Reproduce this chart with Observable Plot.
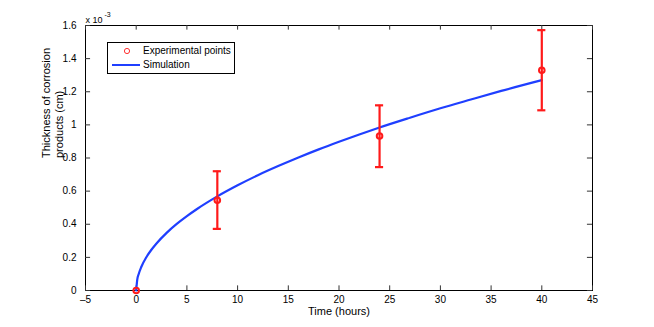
<!DOCTYPE html>
<html>
<head>
<meta charset="utf-8">
<script src="https://cdn.jsdelivr.net/npm/d3@7"></script>
<script src="https://cdn.jsdelivr.net/npm/@observablehq/plot@0.6"></script>
<style>
body{margin:0;background:#fff;font-family:"Liberation Sans",Arial,sans-serif;}
#wrap{position:relative;width:654px;height:327px;}
#legend{position:absolute;left:107px;top:42px;width:126px;height:30px;border:1px solid #000;background:#fff;font-size:10px;color:#000;}
#legend .row{position:absolute;left:0;height:14px;line-height:14px;}
</style>
</head>
<body>
<div id="wrap">
<div id="legend">
  <div class="row" style="top:1px;"><svg width="36" height="14" style="position:absolute;left:0;top:0"><circle cx="19" cy="7" r="2.6" fill="none" stroke="#ff3030" stroke-width="1"/></svg><span style="position:absolute;left:35px;white-space:nowrap">Experimental points</span></div>
  <div class="row" style="top:15px;"><svg width="36" height="14" style="position:absolute;left:0;top:0"><line x1="4" x2="32" y1="7" y2="7" stroke="#1f3fff" stroke-width="2"/></svg><span style="position:absolute;left:35px;white-space:nowrap">Simulation</span></div>
</div>
</div>
<script>
// Experimental data (thickness in units of 1e-3 cm)
const expTime = [0, 8, 24, 40];
const expValue = [0, 0.545, 0.933, 1.330];
const expLow = [0, 0.372, 0.745, 1.088];
const expHigh = [0, 0.720, 1.118, 1.572];

// Simulation curve
const simTime = [0, 0.1, 0.25, 0.5, 1, 1.5, 2, 3, 4, 5, 6, 8, 10, 12, 14, 16, 18, 20, 22, 24, 27, 30, 33, 36, 40];
const simValue = [0, 0.064, 0.100, 0.142, 0.201, 0.246, 0.284, 0.348, 0.402, 0.449, 0.492, 0.568, 0.635, 0.696, 0.751, 0.803, 0.852, 0.898, 0.942, 0.984, 1.043, 1.100, 1.153, 1.205, 1.270];

const xTicks = [-5, 0, 5, 10, 15, 20, 25, 30, 35, 40, 45];
const yTicks = [0, 0.2, 0.4, 0.6, 0.8, 1, 1.2, 1.4, 1.6];

const exp = expTime.map((t, i) => ({t, v: expValue[i], lo: expLow[i], hi: expHigh[i]}));
const sim = simTime.map((t, i) => ({t, v: simValue[i]}));
const errs = exp.filter(d => d.hi > d.lo);

const red = "#ff1a1a";
const blue = "#1f3fff";

const chart = Plot.plot({
  width: 654,
  height: 327,
  marginLeft: 85,
  marginRight: 62,
  marginTop: 25,
  marginBottom: 37,
  style: {fontFamily: "'Liberation Sans', Arial, sans-serif", fontSize: "10px", background: "#fff", color: "#000"},
  x: {domain: [-5, 45]},
  y: {domain: [0, 1.6]},
  marks: [
    Plot.frame({stroke: "#000", strokeWidth: 1}),
    // inward ticks on all four sides
    Plot.ruleX(xTicks, {y1: 0, y2: 0.028, stroke: "#333", strokeWidth: 1}),
    Plot.ruleX(xTicks, {y1: 1.6, y2: 1.572, stroke: "#333", strokeWidth: 1}),
    Plot.ruleY(yTicks, {x1: -5, x2: -4.5, stroke: "#333", strokeWidth: 1}),
    Plot.ruleY(yTicks, {x1: 45, x2: 44.5, stroke: "#333", strokeWidth: 1}),
    Plot.axisX(xTicks, {tickSize: 0, tickPadding: 3, dy: 2, label: null, tickFormat: d => d < 0 ? "\u2013" + Math.abs(d) : String(d), fontSize: 10}),
    Plot.axisY(yTicks, {tickSize: 0, tickPadding: 3, dx: -6, label: null, tickFormat: d => String(d), fontSize: 10}),
    Plot.line(sim, {x: "t", y: "v", stroke: blue, strokeWidth: 2.2, curve: "monotone-x"}),
    Plot.ruleX(errs, {x: "t", y1: "lo", y2: "hi", stroke: red, strokeWidth: 2.2}),
    Plot.ruleY(errs, {y: "lo", x1: d => d.t - 0.4, x2: d => d.t + 0.4, stroke: red, strokeWidth: 2.2}),
    Plot.ruleY(errs, {y: "hi", x1: d => d.t - 0.4, x2: d => d.t + 0.4, stroke: red, strokeWidth: 2.2}),
    Plot.dot(exp, {x: "t", y: "v", r: 2.8, stroke: red, strokeWidth: 2, fill: "none"}),
    Plot.text(["Time (hours)"], {frameAnchor: "bottom", dy: 24, text: d => d, fontSize: 11}),
    Plot.text(["Thickness of corrosion"], {frameAnchor: "left", dx: -39, rotate: -90, text: d => d, fontSize: 11}),
    Plot.text(["products (cm)"], {frameAnchor: "left", dx: -26, rotate: -90, text: d => d, fontSize: 11}),
    Plot.text(["x 10"], {frameAnchor: "top-left", dx: 0, dy: -9, text: d => d, textAnchor: "start", fontSize: 9}),
    Plot.text(["-3"], {frameAnchor: "top-left", dx: 19, dy: -13, text: d => d, textAnchor: "start", fontSize: 7})
  ]
});
document.getElementById("wrap").prepend(chart);
chart.style.position = "absolute";
chart.style.left = "0";
chart.style.top = "0";
</script>
</body>
</html>
